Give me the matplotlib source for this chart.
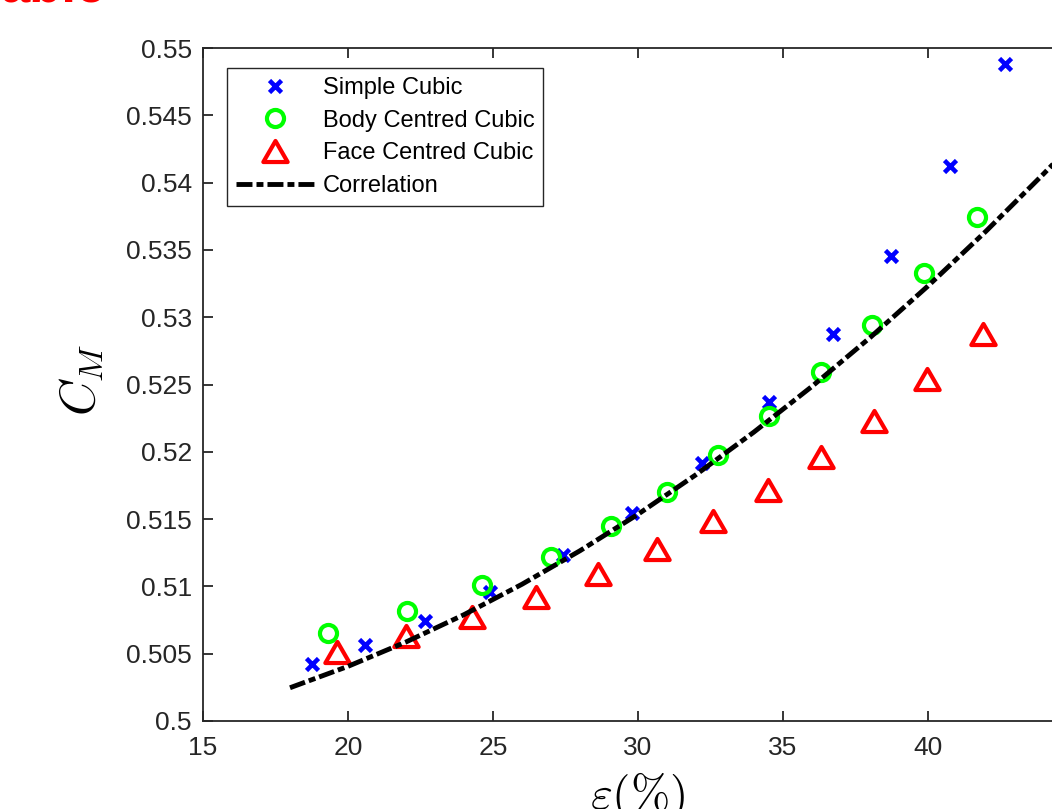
import numpy as np
import matplotlib
matplotlib.use("Agg")
import matplotlib.pyplot as plt
from matplotlib.path import Path
from matplotlib.markers import MarkerStyle

plt.rcParams['font.family'] = ['Liberation Sans', 'DejaVu Sans']
plt.rcParams['mathtext.fontset'] = 'cm'
plt.rcParams['lines.scale_dashes'] = False

# ---- data ----
sc_x = [18.76, 20.59, 22.66, 24.90, 27.41, 29.79, 32.20, 34.52, 36.71, 38.71, 40.76, 42.66]
sc_y = [0.50424, 0.50565, 0.50743, 0.50958, 0.51233, 0.51545, 0.51919, 0.52370, 0.52875, 0.53457, 0.54126, 0.54881]

bcc_x = [19.30, 22.02, 24.62, 27.00, 29.06, 30.99, 32.77, 34.52, 36.31, 38.06, 39.86, 41.68]
bcc_y = [0.50651, 0.50817, 0.51010, 0.51221, 0.51449, 0.51704, 0.51976, 0.52266, 0.52591, 0.52942, 0.53326, 0.53742]

fcc_x = [19.61, 22.00, 24.29, 26.48, 28.63, 30.64, 32.60, 34.47, 36.31, 38.14, 39.96, 41.89]
fcc_y = [0.50513, 0.50634, 0.50769, 0.50921, 0.51094, 0.51280, 0.51484, 0.51713, 0.51961, 0.52229, 0.52539, 0.52877]

corr_x = [18, 20, 22, 24, 26, 28, 30, 32, 34, 36, 38, 40, 42, 44, 44.5]
corr_y = [0.50247, 0.50406, 0.50587, 0.50790, 0.51016, 0.51265, 0.51536, 0.51830,
          0.52147, 0.52486, 0.52848, 0.53232, 0.53639, 0.54068, 0.54179]

x_ticks = [15, 20, 25, 30, 35, 40]
y_ticks = [0.5, 0.505, 0.51, 0.515, 0.52, 0.525, 0.53, 0.535, 0.54, 0.545, 0.55]
y_ticklabels = ['0.5', '0.505', '0.51', '0.515', '0.52', '0.525', '0.53', '0.535', '0.54', '0.545', '0.55']

labels = ['Simple Cubic', 'Body Centred Cubic', 'Face Centred Cubic', 'Correlation']

W, H = 1052, 809
fig = plt.figure(figsize=(W / 100, H / 100), dpi=100)
ax = fig.add_axes([203 / W, (H - 721) / H, (1073 - 203) / W, (721 - 48) / H])

tri = MarkerStyle(Path([(-1, -0.866), (1, -0.866), (0, 0.866), (-1, -0.866)],
                       [Path.MOVETO, Path.LINETO, Path.LINETO, Path.CLOSEPOLY]),
                  joinstyle='miter')

ax.plot(sc_x, sc_y, linestyle='none', marker='x', color='#0000ff',
        markersize=8, markeredgewidth=3.3, label=labels[0])
ax.plot(bcc_x, bcc_y, linestyle='none', marker='o', markerfacecolor='none',
        markeredgecolor='#00ff00', markersize=12.3, markeredgewidth=3.0, label=labels[1])
ax.plot(fcc_x, fcc_y, linestyle='none', marker=tri, markerfacecolor='none',
        markeredgecolor='#ff0000', markersize=17.5, markeredgewidth=3.0, label=labels[2])
ax.plot(corr_x, corr_y, color='black', linewidth=3.5,
        linestyle=(0, (11.5, 2.9, 5.0, 2.9)), label=labels[3])

ax.set_xlim(15, 45)
ax.set_ylim(0.5, 0.55)
ax.set_xticks(x_ticks)
ax.set_yticks(y_ticks)
ax.set_yticklabels(y_ticklabels)

dark = '#262626'
for s in ax.spines.values():
    s.set_color(dark)
    s.set_linewidth(1.3)
ax.tick_params(direction='in', length=7, width=1.3, color=dark, labelcolor=dark,
               labelsize=19, top=True, right=True)
ax.tick_params(axis='y', pad=8)
ax.tick_params(axis='x', pad=11)

leg = ax.legend(loc='upper left', bbox_to_anchor=(227 / W, 1 - 68 / H),
                bbox_transform=fig.transFigure, borderaxespad=0,
                fontsize=17, frameon=True, fancybox=False, framealpha=1,
                edgecolor=dark, handlelength=3.3, handletextpad=0.37,
                labelspacing=0.45, borderpad=0.38, numpoints=1)
leg.get_frame().set_linewidth(1.0)

fig.text(81 / W, 1 - 380 / H, r'$C_M$', rotation=90, fontsize=35,
         ha='center', va='center', color='black')
fig.text(638 / W, 1 - 809 / H, r'$\varepsilon(\%)$', fontsize=34,
         ha='center', va='baseline', color='black')

fig.text(1 / W, 1 - 1.5 / H, 'able', fontsize=38, fontweight='bold',
         color='#ff0000', ha='left', va='baseline')

fig.savefig('out.png', dpi=100)
